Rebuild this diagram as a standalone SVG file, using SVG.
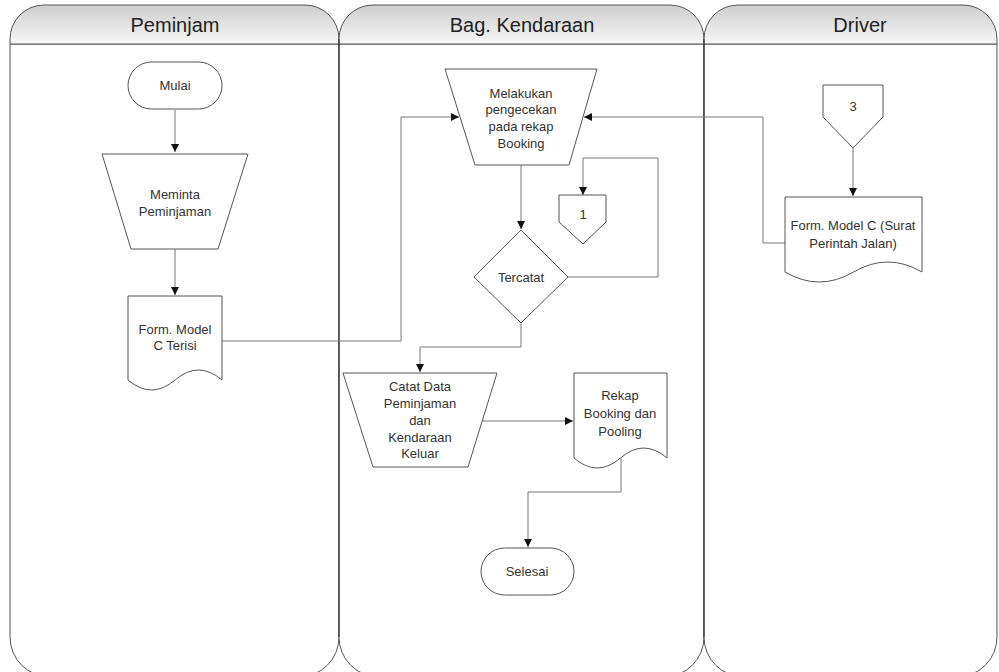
<svg xmlns="http://www.w3.org/2000/svg" width="999" height="672" viewBox="0 0 999 672">
  <defs>
    <linearGradient id="hdr" x1="0" y1="0" x2="0" y2="1">
      <stop offset="0" stop-color="#cdcdcd"/>
      <stop offset="1" stop-color="#f7f7f7"/>
    </linearGradient>
    <marker id="arr" viewBox="0 0 10 10" refX="10" refY="5" markerWidth="8" markerHeight="8" markerUnits="userSpaceOnUse" orient="auto">
      <path d="M0,0 L10,5 L0,10 Z" fill="#111"/>
    </marker>
  </defs>
  <style>
    .lane { fill: #ffffff; stroke: #555; stroke-width: 1; }
    .head { fill: url(#hdr); stroke: #555; stroke-width: 1; }
    .htxt { font-family: "Liberation Sans", Arial, sans-serif; font-size: 20px; fill: #222; text-anchor: middle; }
    .shape { fill: #ffffff; stroke: #555; stroke-width: 1; }
    .txt { font-family: "Liberation Sans", Arial, sans-serif; font-size: 13px; fill: #333; text-anchor: middle; }
    .conn { fill: none; stroke: #777; stroke-width: 1; marker-end: url(#arr); }
    .plain { fill: none; stroke: #777; stroke-width: 1; }
  </style>

  <rect width="999" height="672" fill="#ffffff"/>

  <!-- swimlanes -->
  <g id="lane-peminjam">
    <path class="lane" d="M10,44 V637 A40,40 0 0 0 50,677 H299 A40,40 0 0 0 339,637 V44 Z"/>
    <path class="head" d="M10,44 V39 A34,34 0 0 1 44,5 H305 A34,34 0 0 1 339,39 V44 Z"/>
    <text class="htxt" x="175" y="32">Peminjam</text>
  </g>
  <g id="lane-kendaraan">
    <path class="lane" d="M339,44 V637 A40,40 0 0 0 379,677 H664 A40,40 0 0 0 704,637 V44 Z"/>
    <path class="head" d="M339,44 V39 A34,34 0 0 1 373,5 H670 A34,34 0 0 1 704,39 V44 Z"/>
    <text class="htxt" x="522" y="32">Bag. Kendaraan</text>
  </g>
  <g id="lane-driver">
    <path class="lane" d="M704,44 V637 A40,40 0 0 0 744,677 H957 A40,40 0 0 0 997,637 V44 Z"/>
    <path class="head" d="M704,44 V39 A34,34 0 0 1 738,5 H963 A34,34 0 0 1 997,39 V44 Z"/>
    <text class="htxt" x="860" y="32">Driver</text>
  </g>
  <line x1="339" y1="39" x2="339" y2="637" stroke="#222" stroke-width="1"/>
  <line x1="704" y1="39" x2="704" y2="637" stroke="#222" stroke-width="1"/>

  <!-- connectors -->
  <g id="connectors">
    <path class="conn" d="M175,110 V152"/>
    <path class="conn" d="M175,249 V295"/>
    <path class="conn" d="M222,341 H401 V117 H459"/>
    <path class="conn" d="M785,243 H763 V117 H584"/>
    <path class="conn" d="M521,165 V229"/>
    <path class="conn" d="M568,277 H658 V158 H583 V195"/>
    <path class="conn" d="M521,323 V347 H420 V372"/>
    <path class="conn" d="M482,421 H573"/>
    <path class="conn" d="M621,458 V492 H528 V547"/>
    <path class="conn" d="M853,148 V196"/>
  </g>

  <!-- Peminjam -->
  <g id="mulai">
    <rect class="shape" x="128" y="62" width="94" height="47" rx="23.5"/>
    <text class="txt" x="175" y="90">Mulai</text>
  </g>
  <g id="meminta">
    <path class="shape" d="M102,154 H248 L218,249 H131 Z"/>
    <text class="txt" x="175" y="199">Meminta</text>
    <text class="txt" x="175" y="216">Peminjaman</text>
  </g>
  <g id="form-terisi">
    <path class="shape" d="M128,296 H222 V380 Q198.5,360 175,380 Q151.5,400 128,380 Z"/>
    <text class="txt" x="175" y="334">Form. Model</text>
    <text class="txt" x="175" y="350">C Terisi</text>
  </g>

  <!-- Bag. Kendaraan -->
  <g id="pengecekan">
    <path class="shape" d="M445,69 H597 L569,165 H475 Z"/>
    <text class="txt" x="521" y="98">Melakukan</text>
    <text class="txt" x="521" y="114">pengecekan</text>
    <text class="txt" x="521" y="131">pada rekap</text>
    <text class="txt" x="521" y="148">Booking</text>
  </g>
  <g id="tercatat">
    <path class="shape" d="M521,230 L568,277 L521,323 L474,277 Z"/>
    <text class="txt" x="521" y="282">Tercatat</text>
  </g>
  <g id="offpage-1">
    <path class="shape" d="M559,195 H606 V222 L583,244 L559,222 Z"/>
    <text class="txt" x="583" y="219">1</text>
  </g>
  <g id="catat-data">
    <path class="shape" d="M343,373 H497 L468,467 H373 Z"/>
    <text class="txt" x="420" y="391">Catat Data</text>
    <text class="txt" x="420" y="408">Peminjaman</text>
    <text class="txt" x="420" y="425">dan</text>
    <text class="txt" x="420" y="442">Kendaraan</text>
    <text class="txt" x="420" y="458">Keluar</text>
  </g>
  <g id="rekap">
    <path class="shape" d="M574,373 H667 V458 Q643.75,438 620.5,458 Q597.25,478 574,458 Z"/>
    <text class="txt" x="620" y="400">Rekap</text>
    <text class="txt" x="620" y="418">Booking dan</text>
    <text class="txt" x="620" y="436">Pooling</text>
  </g>
  <g id="selesai">
    <rect class="shape" x="481" y="548" width="93" height="47" rx="23.5"/>
    <text class="txt" x="527" y="576">Selesai</text>
  </g>

  <!-- Driver -->
  <g id="offpage-3">
    <path class="shape" d="M823,85 H883 V117 L853,148 L823,117 Z"/>
    <text class="txt" x="853" y="111">3</text>
  </g>
  <g id="form-spj">
    <path class="shape" d="M785,197 H922 V272 Q887.75,252 853.5,272 Q819.25,292 785,272 Z"/>
    <text class="txt" x="853" y="230">Form. Model C (Surat</text>
    <text class="txt" x="853" y="248">Perintah Jalan)</text>
  </g>
</svg>
